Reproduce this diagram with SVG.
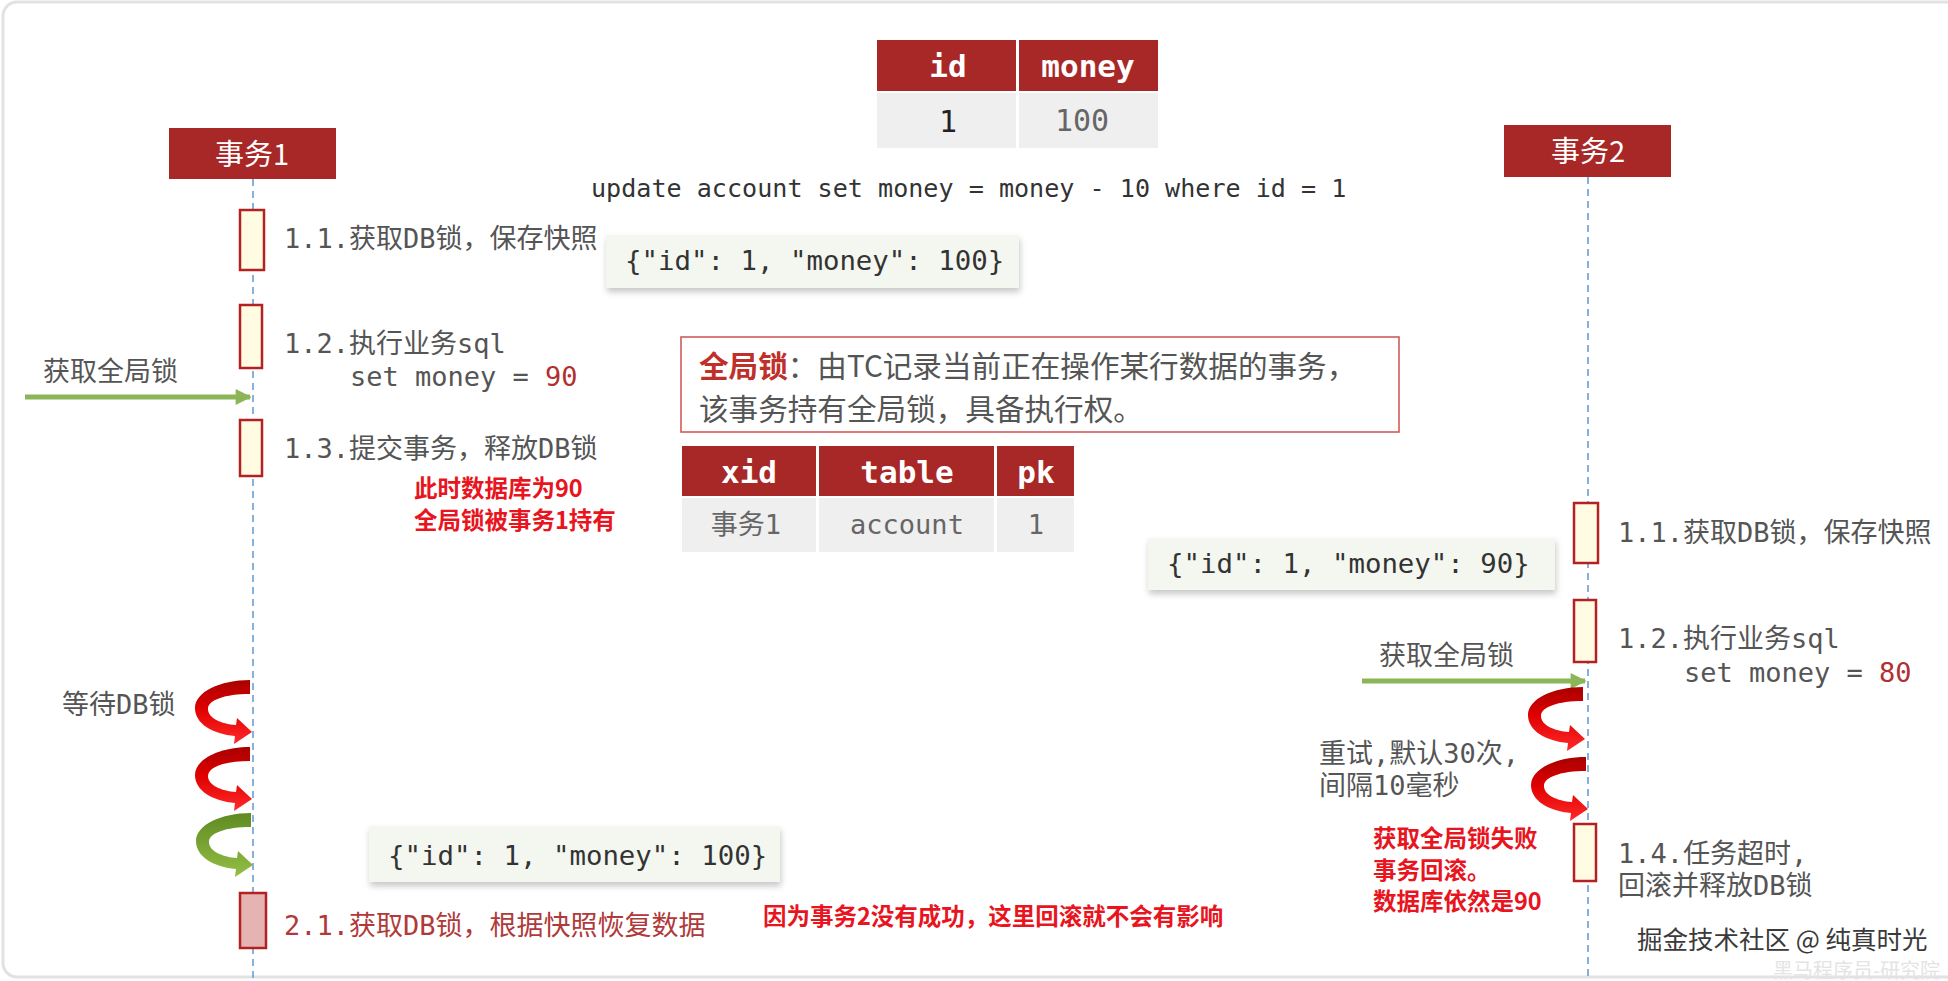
<svg xmlns="http://www.w3.org/2000/svg" width="1948" height="981" viewBox="0 0 1948 981">
<defs>
<style>
.lbl{font-family:"DejaVu Sans Mono","Noto Sans CJK SC",monospace;font-size:27px;fill:#555}
.mono{font-family:"DejaVu Sans Mono","Noto Sans CJK SC",monospace}
.cjk{font-family:"Noto Sans CJK SC","Noto Sans",sans-serif}
.warn{font-family:"Noto Sans CJK SC","Noto Sans",sans-serif;font-size:23.5px;font-weight:bold;fill:#E8141E}
.hdr{fill:#A82828}
.act{fill:#FFFCE3;stroke:#B22222;stroke-width:2.5}
.life{stroke:#6A9FD4;stroke-width:1.6;stroke-dasharray:7 5;fill:none}
.json{fill:#F3F7F0}
.jtxt{font-family:"DejaVu Sans Mono",monospace;font-size:27.4px;fill:#333}
.th{font-family:"DejaVu Sans Mono",monospace;font-size:31px;font-weight:bold;fill:#fff}
.cell{fill:#EFEFEF}
.garrow{stroke:#8CB558;stroke-width:5;fill:none}
</style>
<filter id="sh" x="-10%" y="-20%" width="120%" height="160%">
<feDropShadow dx="1" dy="4" stdDeviation="3" flood-color="#000" flood-opacity="0.22"/>
</filter>
<linearGradient id="redG" x1="0" y1="0" x2="0" y2="1">
<stop offset="0" stop-color="#A80000"/>
<stop offset="0.45" stop-color="#E00000"/>
<stop offset="1" stop-color="#FF2A2A"/>
</linearGradient>
<linearGradient id="greenG" x1="0" y1="0" x2="0" y2="1">
<stop offset="0" stop-color="#5F8A22"/>
<stop offset="1" stop-color="#93BE45"/>
</linearGradient>
<path id="curl" d="M55,0 C25,0 0,12 0,28 C0,44 18,54 40,56 L39,64 L57,52 L42,38 L41,45 C26,44 13,38 13,29 C13,20 30,14 55,14 Z"/>
<marker id="gHead" viewBox="0 0 10 10" refX="9" refY="5" markerWidth="3.6" markerHeight="3.2" orient="auto" markerUnits="strokeWidth">
<path d="M0,0 L10,5 L0,10 Z" fill="#8CB558"/>
</marker>
</defs>

<rect x="0" y="0" width="1948" height="981" fill="#fff"/>
<rect id="frame" x="3" y="2" width="1960" height="975" rx="14" fill="none" stroke="#E2E2E2" stroke-width="3"/>

<!-- connectors -->
<g id="connectors">
<line class="life" x1="253" y1="179" x2="253" y2="981"/>
<line class="life" x1="1588" y1="177" x2="1588" y2="981"/>
<line class="garrow" x1="25" y1="397" x2="250" y2="397" marker-end="url(#gHead)"/>
<line class="garrow" x1="1362" y1="681" x2="1585" y2="681" marker-end="url(#gHead)"/>
<use href="#curl" x="195" y="680" fill="url(#redG)"/>
<use href="#curl" x="195" y="747" fill="url(#redG)"/>
<use href="#curl" x="196" y="813" fill="url(#greenG)"/>
<use href="#curl" x="1528" y="687" fill="url(#redG)"/>
<use href="#curl" x="1531" y="757" fill="url(#redG)"/>
</g>

<!-- account table -->
<g id="account-table">
<rect class="hdr" x="877" y="40" width="139" height="51"/>
<rect class="hdr" x="1019" y="40" width="139" height="51"/>
<rect class="cell" x="877" y="93" width="139" height="55"/>
<rect class="cell" x="1019" y="93" width="139" height="55"/>
<text class="th" x="948" y="77" text-anchor="middle">id</text>
<text class="th" x="1088" y="77" text-anchor="middle">money</text>
<text class="mono" x="948" y="132" font-size="30" fill="#222" text-anchor="middle">1</text>
<text class="mono" x="1082" y="131" font-size="30" fill="#666" text-anchor="middle">100</text>
</g>

<g id="sql">
<text class="mono" x="591" y="197" font-size="25.1" fill="#333">update account set money = money - 10 where id = 1</text>
</g>

<!-- transaction headers -->
<g id="tx1">
<rect class="hdr" x="169" y="128" width="167" height="51"/>
<text class="cjk" x="252" y="165" font-size="29" fill="#fff" text-anchor="middle">事务1</text>
</g>
<g id="tx2">
<rect class="hdr" x="1504" y="125" width="167" height="52"/>
<text class="cjk" x="1588" y="162" font-size="29" fill="#fff" text-anchor="middle">事务2</text>
</g>

<!-- tx1 steps -->
<g id="t1-s11">
<rect class="act" x="240" y="210" width="24" height="60"/>
<text class="lbl" x="284" y="248">1.1.获取DB锁，保存快照</text>
</g>
<g id="json1">
<rect class="json" x="606" y="235" width="413" height="53" filter="url(#sh)"/>
<text class="jtxt" x="625" y="270">{"id": 1, "money": 100}</text>
</g>
<g id="t1-s12">
<rect class="act" x="240" y="305" width="22" height="63"/>
<text class="lbl" x="284" y="353">1.2.执行业务sql</text>
<text class="lbl" x="350" y="386">set money = <tspan style="fill:#B03030">90</tspan></text>
</g>
<g id="t1-lock">
<text class="lbl" x="43" y="381">获取全局锁</text>
</g>
<g id="t1-s13">
<rect class="act" x="240" y="420" width="22" height="56"/>
<text class="lbl" x="284" y="458">1.3.提交事务，释放DB锁</text>
</g>
<g id="t1-note">
<text class="warn" x="414" y="497">此时数据库为90</text>
<text class="warn" x="414" y="529">全局锁被事务1持有</text>
</g>

<!-- global lock note -->
<g id="gl-note">
<rect x="681" y="337" width="718" height="95" fill="#fff" stroke="#D25A5A" stroke-width="1.6"/>
<text class="cjk" x="699" y="377" font-size="29.6" fill="#555"><tspan fill="#C0302B" font-weight="bold">全局锁</tspan>：由TC记录当前正在操作某行数据的事务，</text>
<text class="cjk" x="699" y="420" font-size="29.6" fill="#555">该事务持有全局锁，具备执行权。</text>
</g>

<!-- lock table -->
<g id="lock-table">
<rect class="hdr" x="682" y="446" width="134" height="50"/>
<rect class="hdr" x="819" y="446" width="175" height="50"/>
<rect class="hdr" x="997" y="446" width="77" height="50"/>
<rect class="cell" x="682" y="498" width="134" height="54"/>
<rect class="cell" x="819" y="498" width="175" height="54"/>
<rect class="cell" x="997" y="498" width="77" height="54"/>
<text class="th" x="749" y="483" font-size="30" text-anchor="middle">xid</text>
<text class="th" x="907" y="483" font-size="30" text-anchor="middle">table</text>
<text class="th" x="1036" y="483" font-size="30" text-anchor="middle">pk</text>
<text class="lbl" x="746" y="534" style="fill:#666" text-anchor="middle">事务1</text>
<text class="lbl" x="907" y="534" style="fill:#666" text-anchor="middle">account</text>
<text class="lbl" x="1036" y="534" style="fill:#666" text-anchor="middle">1</text>
</g>

<!-- tx2 steps -->
<g id="t2-s11">
<rect class="act" x="1574" y="503" width="24" height="60"/>
<text class="lbl" x="1618" y="542">1.1.获取DB锁，保存快照</text>
</g>
<g id="json2">
<rect class="json" x="1148" y="538" width="407" height="52" filter="url(#sh)"/>
<text class="jtxt" x="1167" y="573">{"id": 1, "money": 90}</text>
</g>
<g id="t2-s12">
<rect class="act" x="1574" y="600" width="22" height="62"/>
<text class="lbl" x="1618" y="648">1.2.执行业务sql</text>
<text class="lbl" x="1684" y="682">set money = <tspan style="fill:#B03030">80</tspan></text>
</g>
<g id="t2-lock">
<text class="lbl" x="1379" y="665">获取全局锁</text>
</g>
<g id="t2-retry">
<text class="lbl" x="1319" y="763">重试,默认30次,</text>
<text class="lbl" x="1319" y="795">间隔10毫秒</text>
</g>
<g id="t2-fail">
<text class="warn" x="1373" y="847">获取全局锁失败</text>
<text class="warn" x="1373" y="879">事务回滚。</text>
<text class="warn" x="1373" y="910">数据库依然是90</text>
</g>
<g id="t2-s14">
<rect class="act" x="1574" y="824" width="22" height="57"/>
<text class="lbl" x="1618" y="863">1.4.任务超时,</text>
<text class="lbl" x="1618" y="895">回滚并释放DB锁</text>
</g>

<!-- tx1 rollback -->
<g id="t1-wait">
<text class="lbl" x="62" y="714">等待DB锁</text>
</g>
<g id="json3">
<rect class="json" x="369" y="826" width="411" height="56" filter="url(#sh)"/>
<text class="jtxt" x="388" y="865">{"id": 1, "money": 100}</text>
</g>
<g id="t1-s21">
<rect x="240" y="893" width="26" height="55" fill="#E6B3B3" stroke="#B22222" stroke-width="2.5"/>
<text class="lbl" x="284" y="935" style="fill:#B03A3A">2.1.获取DB锁，根据快照恢复数据</text>
</g>
<g id="t1-note2">
<text class="warn" x="763" y="925">因为事务2没有成功，这里回滚就不会有影响</text>
</g>

<g id="watermark">
<text class="cjk" x="1637" y="949" font-size="25.5" fill="#3a3a3a" stroke="#fff" stroke-width="3" paint-order="stroke">掘金技术社区 @ 纯真时光</text>
<text class="cjk" x="1773" y="978" font-size="20" fill="#E4E4E4">黑马程序员-研究院</text>
</g>
</svg>
